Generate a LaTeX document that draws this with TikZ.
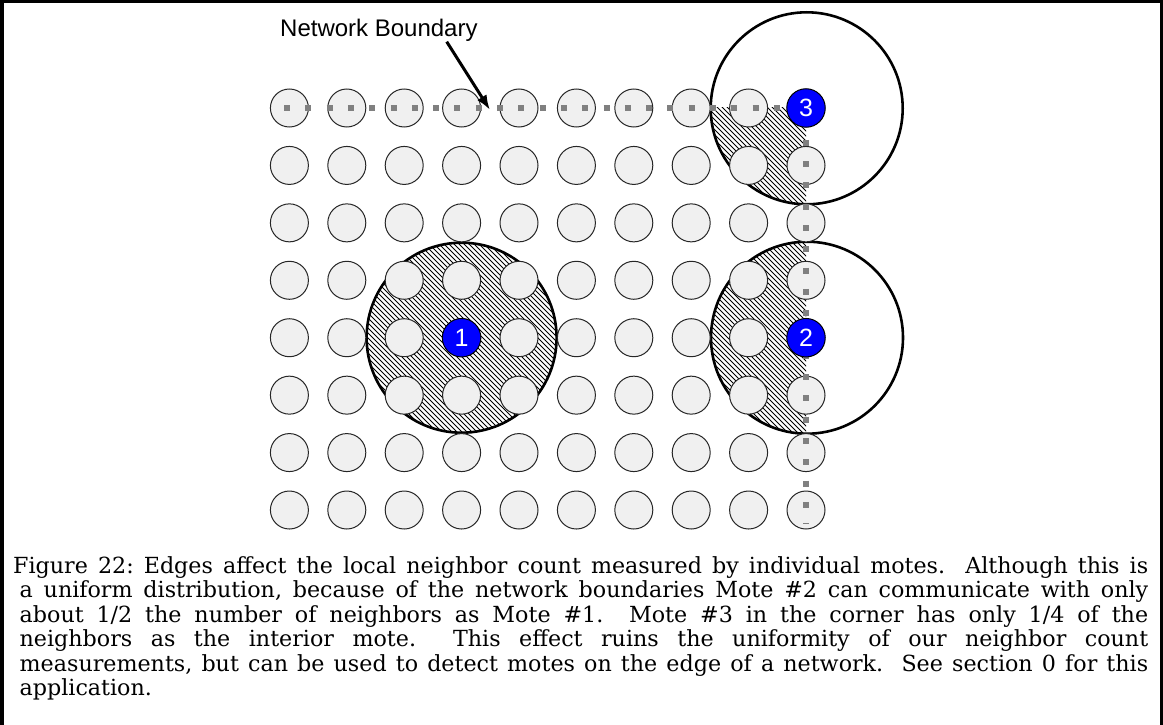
\documentclass[tikz,border=0pt]{standalone}
\usepackage{fontspec}
\newfontfamily\arialfont{Liberation Sans}
\newfontfamily\capfont{DejaVu Serif}
\usetikzlibrary{arrows.meta}
\definecolor{motegray}{HTML}{F0F0F0}
\definecolor{dotgray}{HTML}{808080}
\definecolor{moteblue}{HTML}{0000FF}
\begin{document}
\begin{tikzpicture}[x=1bp,y=-1bp,
  gridmote/.style={circle,draw=black!85,line width=1bp,fill=motegray,minimum size=38bp,inner sep=0},
  bluemote/.style={circle,draw=black,line width=1bp,fill=moteblue,minimum size=38.5bp,inner sep=0,text=white,font=\arialfont\fontsize{25bp}{25bp}\selectfont},
  rangering/.style={draw=black,line width=2.6bp},
  hatchline/.style={line width=0.85bp,black},
  boundary/.style={draw=dotgray,line width=5.5bp,dash pattern=on 6bp off 15.3bp},
  pointer/.style={line width=3bp,-{Latex[length=15bp,width=11bp]}},
  capline/.style={anchor=base west,inner sep=0,font=\capfont\fontsize{22.2bp}{24bp}\selectfont\frenchspacing}]
\useasboundingbox (0,0) rectangle (1163,725);
\fill[white] (0,0) rectangle (1163,725);

% hatching inside the radio ranges
\begin{scope}
  \clip (461.6,337.7) circle[radius=95bp];
  \foreach \c in {-80,-75,...,330} \draw[hatchline] (\c+235,235) -- (\c+440,440);
\end{scope}
\begin{scope}
  \clip (700,230) rectangle (806,445);
  \clip (807,337.7) circle[radius=96bp];
  \foreach \c in {260,265,...,580} \draw[hatchline] (\c+230,230) -- (\c+445,445);
\end{scope}
\begin{scope}
  \clip (700,108) rectangle (806,215);
  \clip (806.7,108.3) circle[radius=96bp];
  \foreach \c in {490,495,...,710} \draw[hatchline] (\c+100,100) -- (\c+215,215);
\end{scope}

% range outlines
\draw[rangering] (461.6,337.7) circle[radius=95bp];
\draw[rangering] (807,337.7) circle[radius=96bp];
\draw[rangering] (806.7,108.3) circle[radius=96bp];

% grid of motes
\foreach \i in {0,...,9}{
  \foreach \j in {0,...,7}{
    \pgfmathtruncatemacro\isblue{((\i==3)&&(\j==4))||((\i==9)&&(\j==4))||((\i==9)&&(\j==0))}
    \ifnum\isblue=0
      \node[gridmote] (m-\i-\j) at ({289.4+57.4*\i},{108+57.43*\j}) {};
    \fi
  }
}
\coordinate (mote1pos) at ({289.4+57.4*3},{108+57.43*4});
\coordinate (mote2pos) at ({289.4+57.4*9},{108+57.43*4});
\coordinate (mote3pos) at ({289.4+57.4*9},108);

% network boundary
\draw[boundary] ([xshift=-5.4bp]m-0-0.center) -- (mote3pos) -- ([yshift=-14bp]m-9-7.center);

% special motes
\node[bluemote] (mote1) at (mote1pos) {1};
\node[bluemote] (mote2) at (mote2pos) {2};
\node[bluemote] (mote3) at (mote3pos) {3};

% label
\node[anchor=base west,inner sep=0,font=\arialfont\fontsize{24bp}{24bp}\selectfont] (nblabel) at (280,36.7) {Network Boundary};
\coordinate (arrowstart) at (446.7,41.7);
\coordinate (arrowtip) at (490,110);
\draw[pointer] (arrowstart) -- (arrowtip);

% frame
\draw[line width=3.5bp] (1.75,725) -- (1.75,1.75) -- (1161.25,1.75) -- (1161.25,725);

% caption
\node[capline] (cap1) at (13,573.5) {\makebox[1135bp][s]{Figure 22: Edges affect the local neighbor count measured by individual motes.\ \ Although this is}};
\node[capline] (cap2) at (19.5,597.9) {\makebox[1128.5bp][s]{a uniform distribution, because of the network boundaries Mote \#2 can communicate with only}};
\node[capline] (cap3) at (19.5,622.3) {\makebox[1128.5bp][s]{about 1/2 the number of neighbors as Mote \#1.\ \ Mote \#3 in the corner has only 1/4 of the}};
\node[capline] (cap4) at (19.5,646.7) {\makebox[1128.5bp][s]{neighbors as the interior mote.\ \ This effect ruins the uniformity of our neighbor count}};
\node[capline] (cap5) at (19.5,671.1) {\makebox[1128.5bp][s]{measurements, but can be used to detect motes on the edge of a network.\ \ See section 0 for this}};
\node[capline] (cap6) at (19.5,695.5) {application.};
\end{tikzpicture}
\end{document}
